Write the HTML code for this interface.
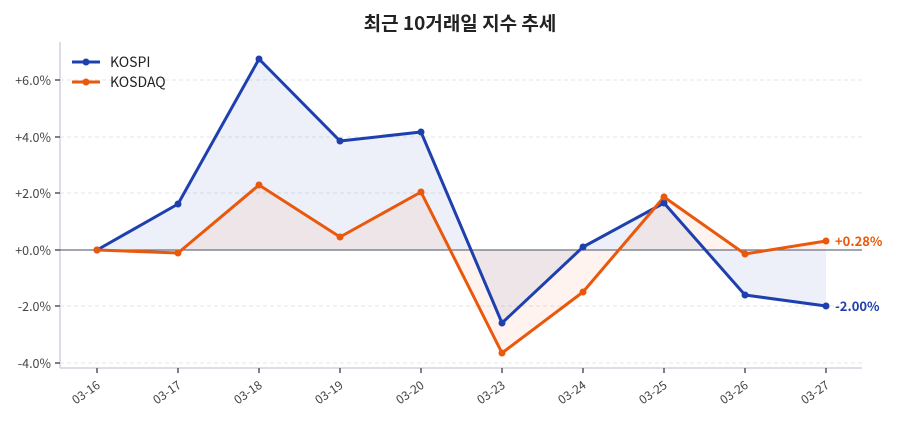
<!DOCTYPE html>
<html><head><meta charset="utf-8"><style>
body{margin:0;background:#fff;width:900px;height:420px;overflow:hidden}
text{font-family:"Noto Sans CJK KR","Liberation Sans",sans-serif}
</style></head><body>
<svg width="900" height="420" viewBox="0 0 900 420">
<text x="460" y="30" text-anchor="middle" font-size="19" font-weight="bold" fill="#222">최근 10거래일 지수 추세</text>
<g stroke="#e3e5ea" stroke-dasharray="4,3" stroke-width="1">
<line x1="60" x2="862" y1="80" y2="80"/><line x1="60" x2="862" y1="137" y2="137"/><line x1="60" x2="862" y1="193" y2="193"/><line x1="60" x2="862" y1="306" y2="306"/><line x1="60" x2="862" y1="363" y2="363"/>
</g>
<line x1="60" y1="42" x2="60" y2="368" stroke="#d0d4de" stroke-width="1.5"/>
<line x1="60" y1="368" x2="862" y2="368" stroke="#d0d4de" stroke-width="1.5"/>
<g stroke="#555" stroke-width="1.5">
<line x1="55" x2="60" y1="80" y2="80"/><line x1="55" x2="60" y1="137" y2="137"/><line x1="55" x2="60" y1="193" y2="193"/><line x1="55" x2="60" y1="250" y2="250"/><line x1="55" x2="60" y1="306" y2="306"/><line x1="55" x2="60" y1="363" y2="363"/>
<line x1="97" x2="97" y1="368" y2="373"/><line x1="178" x2="178" y1="368" y2="373"/><line x1="259" x2="259" y1="368" y2="373"/><line x1="340" x2="340" y1="368" y2="373"/><line x1="421" x2="421" y1="368" y2="373"/><line x1="502" x2="502" y1="368" y2="373"/><line x1="583" x2="583" y1="368" y2="373"/><line x1="664" x2="664" y1="368" y2="373"/><line x1="745" x2="745" y1="368" y2="373"/><line x1="826" x2="826" y1="368" y2="373"/>
</g>
<g font-size="12.5" fill="#444" text-anchor="end">
<text x="51" y="85">+6.0%</text><text x="51" y="142">+4.0%</text><text x="51" y="198">+2.0%</text><text x="51" y="255">+0.0%</text><text x="51" y="311">-2.0%</text><text x="51" y="368">-4.0%</text>
</g>
<g font-size="12" fill="#444" text-anchor="end">
<text transform="translate(101,387) rotate(-35)">03-16</text><text transform="translate(182,387) rotate(-35)">03-17</text><text transform="translate(263,387) rotate(-35)">03-18</text><text transform="translate(344,387) rotate(-35)">03-19</text><text transform="translate(425,387) rotate(-35)">03-20</text><text transform="translate(506,387) rotate(-35)">03-23</text><text transform="translate(587,387) rotate(-35)">03-24</text><text transform="translate(668,387) rotate(-35)">03-25</text><text transform="translate(749,387) rotate(-35)">03-26</text><text transform="translate(830,387) rotate(-35)">03-27</text>
</g>
<polygon points="97,250 178,204 259,59 340,141 421,132 502,323 583,247 664,203 745,295 826,306 826,250" fill="#1e40af" fill-opacity="0.08"/>
<polygon points="97,250 178,253 259,185 340,237 421,192 502,353 583,292 664,197 745,254 826,241 826,250" fill="#ea580c" fill-opacity="0.07"/>
<line x1="60" x2="862" y1="250" y2="250" stroke="#6b7280" stroke-width="1.2"/>
<polyline points="97,250 178,204 259,59 340,141 421,132 502,323 583,247 664,203 745,295 826,306" fill="none" stroke="#1e40af" stroke-width="3" stroke-linejoin="round"/>
<polyline points="97,250 178,253 259,185 340,237 421,192 502,353 583,292 664,197 745,254 826,241" fill="none" stroke="#ea580c" stroke-width="3" stroke-linejoin="round"/>
<g fill="#1e40af"><circle cx="97" cy="250" r="3.5"/><circle cx="178" cy="204" r="3.5"/><circle cx="259" cy="59" r="3.5"/><circle cx="340" cy="141" r="3.5"/><circle cx="421" cy="132" r="3.5"/><circle cx="502" cy="323" r="3.5"/><circle cx="583" cy="247" r="3.5"/><circle cx="664" cy="203" r="3.5"/><circle cx="745" cy="295" r="3.5"/><circle cx="826" cy="306" r="3.5"/></g>
<g fill="#ea580c"><circle cx="97" cy="250" r="3.5"/><circle cx="178" cy="253" r="3.5"/><circle cx="259" cy="185" r="3.5"/><circle cx="340" cy="237" r="3.5"/><circle cx="421" cy="192" r="3.5"/><circle cx="502" cy="353" r="3.5"/><circle cx="583" cy="292" r="3.5"/><circle cx="664" cy="197" r="3.5"/><circle cx="745" cy="254" r="3.5"/><circle cx="826" cy="241" r="3.5"/></g>
<text x="835" y="311" font-size="13" font-weight="bold" fill="#1e40af">-2.00%</text>
<text x="835" y="246" font-size="13" font-weight="bold" fill="#ea580c">+0.28%</text>
<line x1="72" x2="100" y1="62" y2="62" stroke="#1e40af" stroke-width="3"/><circle cx="86" cy="62" r="3.5" fill="#1e40af"/>
<text x="110" y="67" font-size="14" fill="#222">KOSPI</text>
<line x1="72" x2="100" y1="82" y2="82" stroke="#ea580c" stroke-width="3"/><circle cx="86" cy="82" r="3.5" fill="#ea580c"/>
<text x="110" y="87" font-size="14" fill="#222">KOSDAQ</text>
</svg>
</body></html>
